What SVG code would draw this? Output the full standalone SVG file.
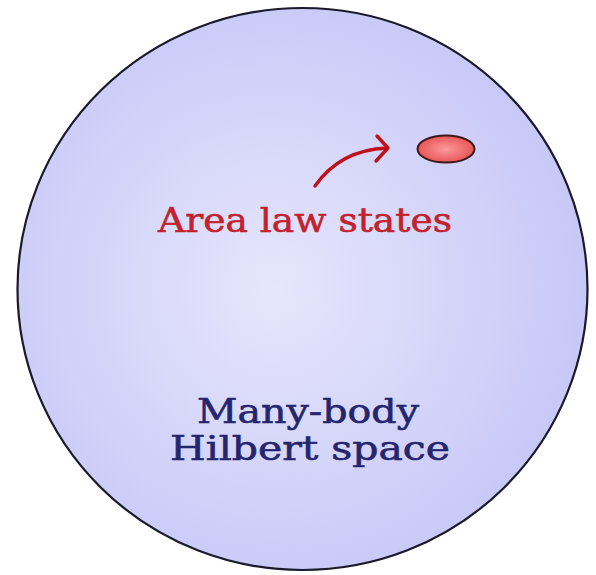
<svg xmlns="http://www.w3.org/2000/svg" width="596" height="575" viewBox="0 0 596 575">
<defs>
<radialGradient id="bg" cx="0.45" cy="0.5" r="0.55">
<stop offset="0" stop-color="#e6e6fc"/>
<stop offset="1" stop-color="#c8c8f8"/>
</radialGradient>
<radialGradient id="rg" cx="0.5" cy="0.5" r="0.55">
<stop offset="0" stop-color="#f99a9a"/>
<stop offset="1" stop-color="#e84e50"/>
</radialGradient>
<style>
.lbl{font-family:"DejaVu Serif","Liberation Serif",serif;font-size:33px;text-anchor:middle;stroke-width:0.6px}
.red{fill:#c2222c;stroke:#c2222c}
.blue{fill:#25256e;stroke:#25256e}
</style>
</defs>
<rect width="596" height="575" fill="#ffffff"/>
<g id="hilbert">
<ellipse cx="302.5" cy="289" rx="285" ry="281" fill="url(#bg)" stroke="#1a1a2a" stroke-width="2.2"/>
<text class="lbl blue" x="308" y="423" textLength="222" lengthAdjust="spacingAndGlyphs">Many-body</text>
<text class="lbl blue" x="310" y="460" textLength="280" lengthAdjust="spacingAndGlyphs">Hilbert space</text>
</g>
<g id="arealaw">
<ellipse cx="446" cy="149" rx="28.5" ry="13.5" fill="url(#rg)" stroke="#3a1a1a" stroke-width="2"/>
<text class="lbl red" x="305" y="232" textLength="294" lengthAdjust="spacingAndGlyphs">Area law states</text>
</g>
<g id="connectors" fill="none" stroke="#c0101c" stroke-width="3.4" stroke-linecap="round" stroke-linejoin="round">
<path d="M315,186 Q340,150 387,148"/>
<path d="M377,136 L388,148 L376,161"/>
</g>
</svg>
